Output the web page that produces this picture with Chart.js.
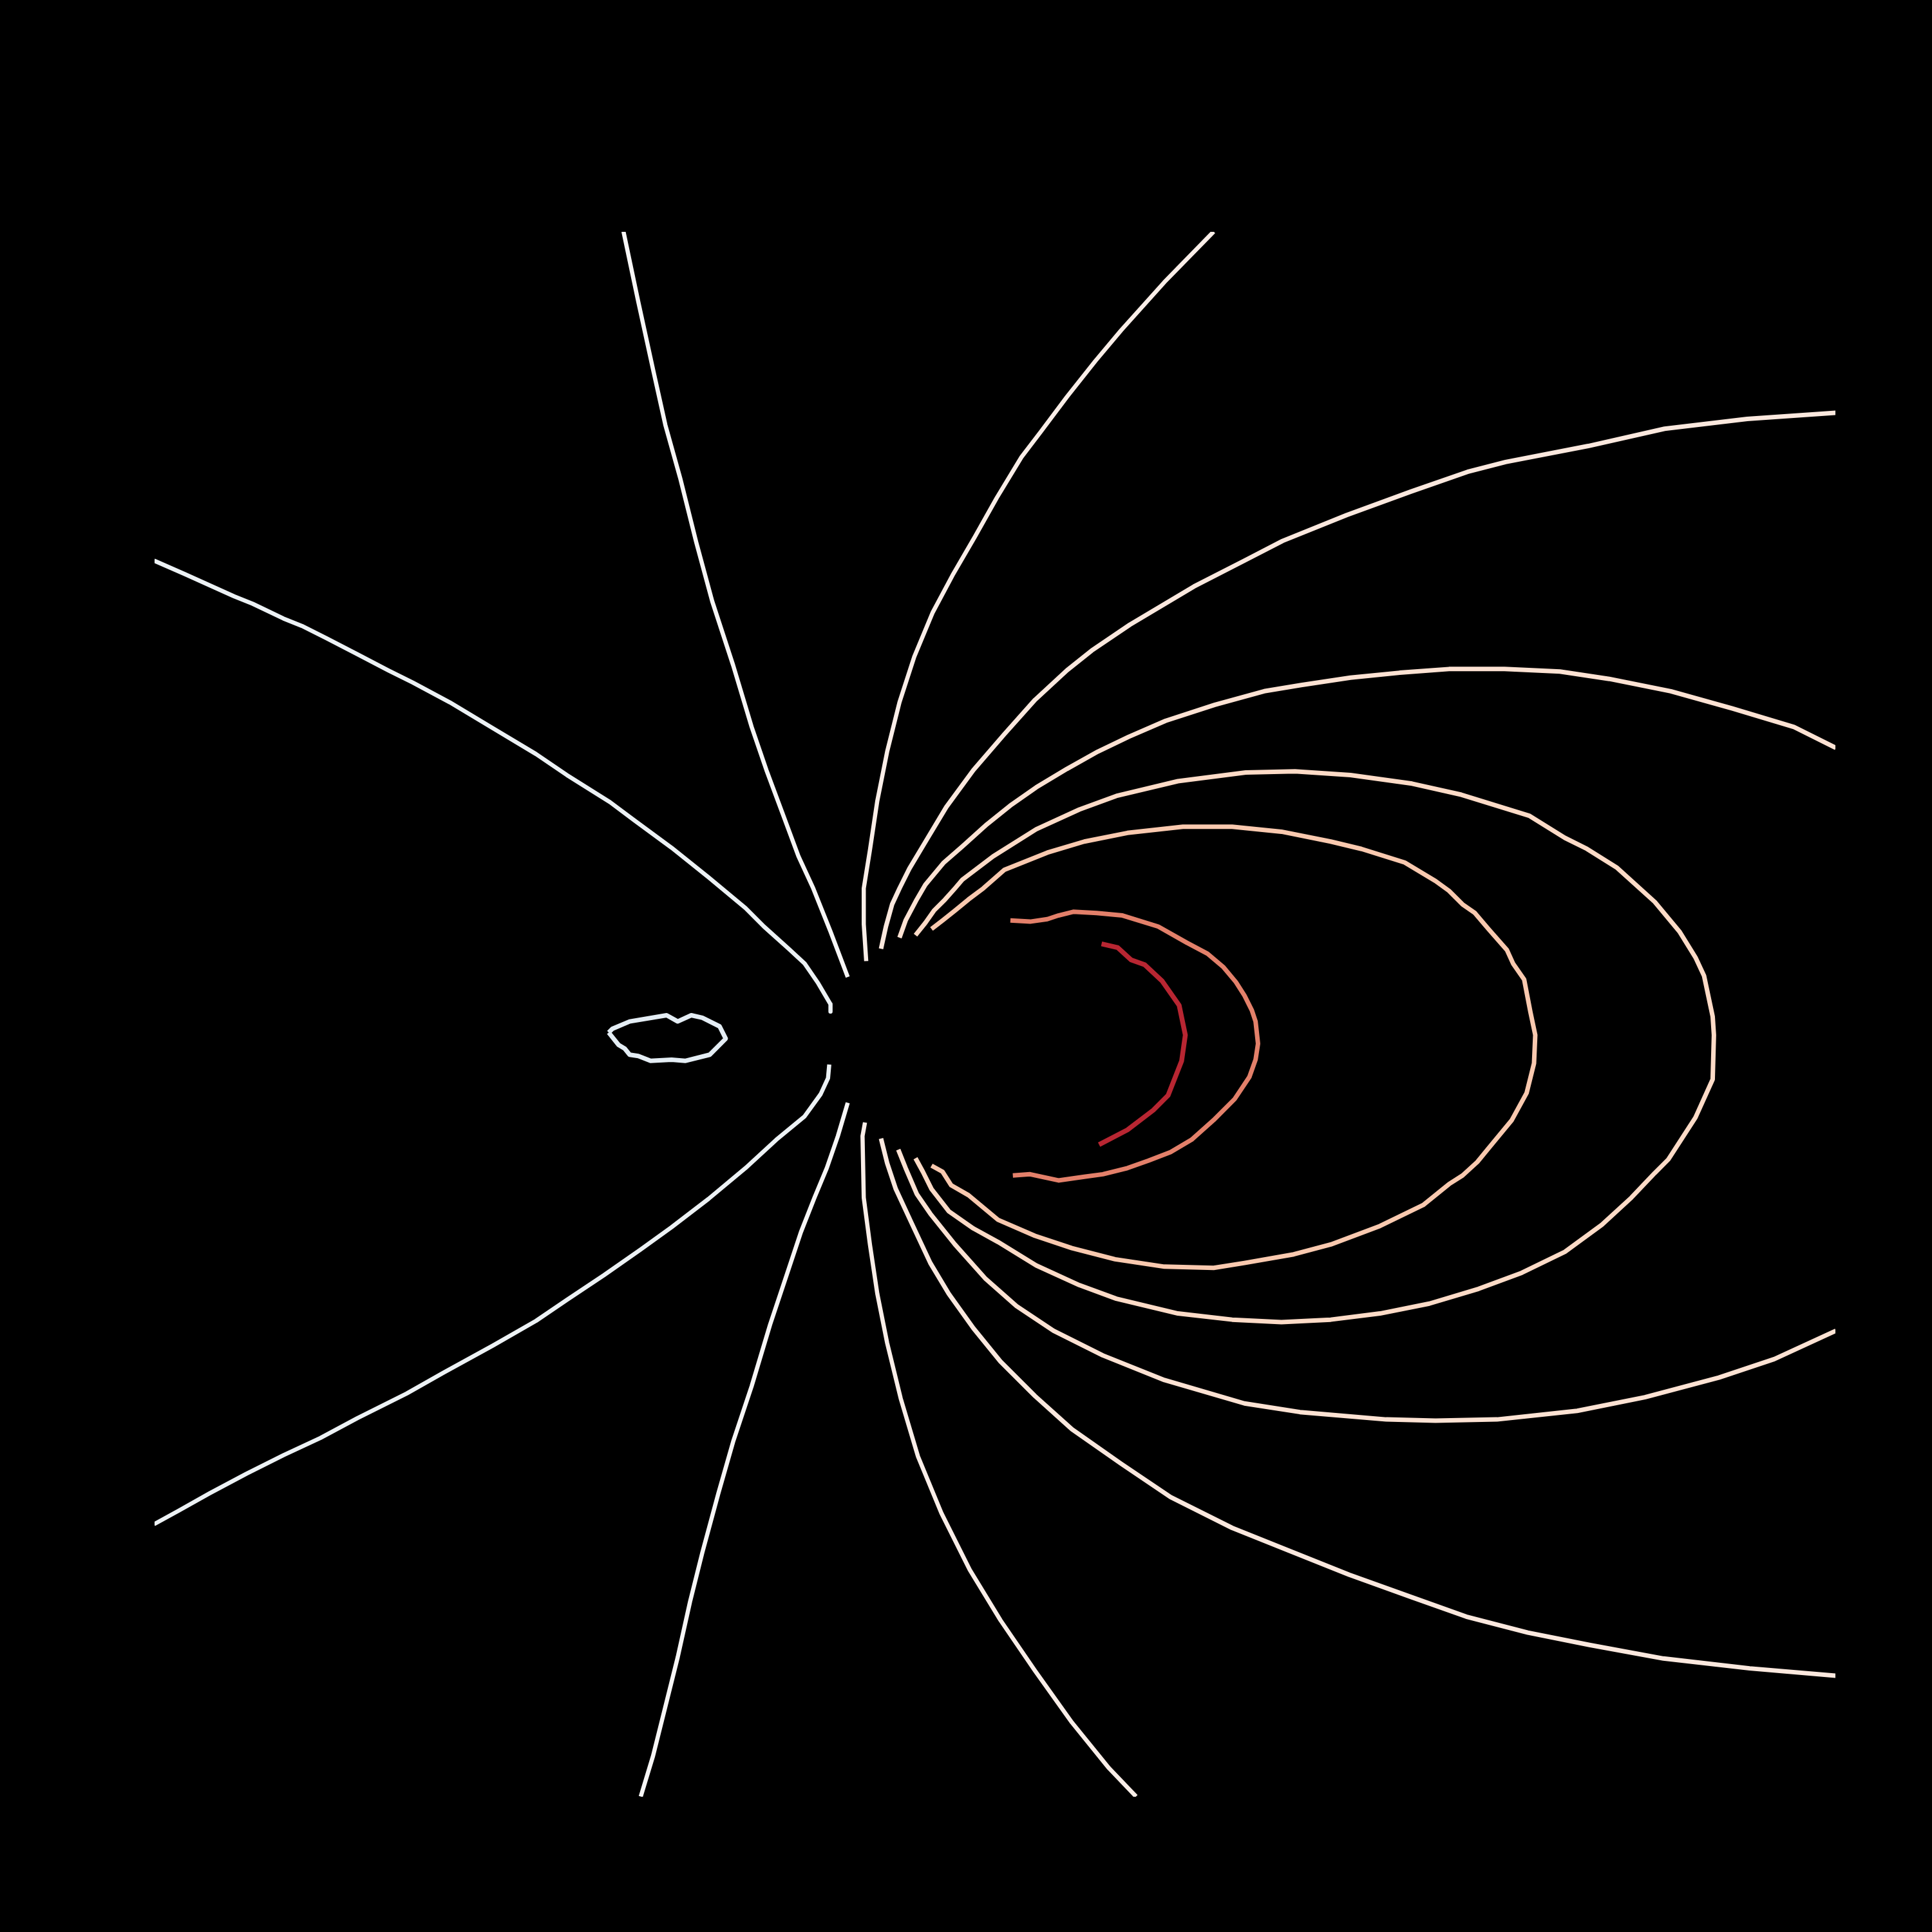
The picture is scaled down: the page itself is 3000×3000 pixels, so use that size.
<!DOCTYPE html>
<html>
<head>
<meta charset="utf-8">
<script src="https://cdn.jsdelivr.net/npm/chart.js@4.4.1/dist/chart.umd.min.js"></script>
<style>
  html, body { margin: 0; padding: 0; background: #000; }
  canvas { display: block; background: #000; }
</style>
</head>
<body>
<canvas id="contourChart" width="3000" height="3000"></canvas>
<script>
// contour paths, [x, y] in plot units (y grows downward)
const loopLeft = [[494,838],[497,835],[511,829],[541,824],[550,829],[561,824],[570,826],[584,833],[589,843],[576,856],[556,861],[545,860],[528,861],[518,857],[511,856],[507,851],[502,848],[494,838]];

const line1Upper = [[125,455],[150,466],[170,475],[190,484],[205,490],[230,502],[245,508],[265,518],[290,531],[315,544],[335,554],[365,570],[400,591],[435,612],[460,629],[495,651],[515,666],[545,688],[575,712],[605,737],[620,752],[640,770],[653,782],[664,798],[674,815],[674,821]];
const line1Lower = [[673,864],[672,875],[666,888],[653,906],[630,925],[605,948],[575,973],[545,996],[520,1014],[490,1035],[460,1055],[435,1072],[400,1092],[360,1114],[330,1131],[290,1151],[260,1167],[230,1181],[200,1196],[170,1212],[145,1226],[125,1237]];

const line2Upper = [[506,188],[518,245],[530,300],[540,345],[552,388],[565,440],[578,488],[595,540],[610,590],[622,625],[635,660],[648,695],[660,721],[674,756],[688,793]];
const line2Lower = [[688,895],[680,922],[671,948],[661,972],[650,1000],[640,1030],[625,1075],[610,1125],[595,1170],[583,1212],[570,1260],[560,1300],[550,1345],[540,1385],[530,1425],[520,1458]];

const line3Upper = [[985,188],[945,229],[910,268],[889,293],[866,322],[845,350],[829,371],[809,404],[791,436],[773,467],[757,497],[742,533],[730,570],[720,610],[712,650],[706,690],[701,721],[701,750],[703,780]];
const line3Lower = [[702,911],[700,922],[701,972],[706,1010],[712,1050],[720,1090],[731,1135],[745,1182],[764,1228],[787,1274],[812,1315],[840,1356],[870,1398],[900,1435],[922,1458]];

const line4Upper = [[1490,335],[1418,340],[1351,348],[1289,362],[1222,375],[1191,383],[1145,399],[1093,418],[1041,439],[1010,455],[969,476],[917,507],[886,528],[866,544],[840,568],[815,596],[790,625],[768,655],[750,685],[738,705],[730,721],[724,734],[719,752],[715,770]];
const line4Lower = [[715,924],[720,944],[727,965],[740,993],[755,1025],[770,1050],[790,1078],[812,1105],[840,1133],[870,1160],[910,1188],[950,1215],[1000,1240],[1045,1258],[1095,1278],[1145,1296],[1190,1312],[1240,1325],[1290,1335],[1350,1346],[1420,1354],[1490,1360]];

const line5Upper = [[1490,607],[1456,590],[1406,575],[1356,561],[1306,551],[1266,545],[1221,543],[1176,543],[1136,546],[1096,550],[1056,556],[1026,561],[986,572],[946,585],[916,598],[891,610],[866,624],[841,639],[821,653],[801,669],[781,687],[766,700],[751,718],[744,730],[735,747],[730,761]];
const line5Lower = [[729,933],[735,948],[744,969],[755,985],[775,1010],[800,1038],[825,1060],[855,1080],[895,1100],[945,1120],[1010,1139],[1055,1146],[1125,1152],[1165,1153],[1215,1152],[1280,1145],[1335,1134],[1395,1118],[1440,1103],[1490,1080]];

const line6 = [[743,759],[751,749],[758,739],[767,730],[775,721],[781,714],[806,695],[841,673],[876,657],[906,646],[956,634],[1011,627],[1051,626],[1096,629],[1146,636],[1186,645],[1241,662],[1270,680],[1288,689],[1312,704],[1343,732],[1363,756],[1376,777],[1383,792],[1390,825],[1391,840],[1390,876],[1376,907],[1354,941],[1343,952],[1324,972],[1300,994],[1270,1016],[1235,1033],[1200,1046],[1160,1058],[1120,1066],[1080,1071],[1040,1073],[1000,1071],[956,1066],[906,1054],[876,1043],[841,1027],[810,1008],[790,997],[770,983],[756,965],[749,951],[743,940]];

const line7 = [[756,754],[765,747],[775,739],[786,730],[798,721],[815,706],[850,692],[880,683],[915,676],[960,671],[1000,671],[1040,675],[1080,683],[1105,689],[1140,700],[1165,715],[1176,723],[1187,734],[1197,741],[1208,754],[1223,771],[1228,782],[1237,795],[1242,821],[1246,840],[1245,863],[1239,887],[1227,909],[1208,932],[1199,943],[1187,954],[1176,961],[1155,978],[1120,995],[1080,1010],[1050,1018],[1010,1025],[985,1029],[945,1028],[905,1022],[870,1013],[840,1003],[810,990],[786,970],[772,962],[765,951],[756,946]];

const line8 = [[820,747],[836,748],[850,746],[859,743],[871,740],[890,741],[911,743],[940,752],[963,765],[980,774],[993,785],[1003,797],[1010,808],[1016,820],[1019,829],[1021,847],[1019,860],[1014,874],[1002,892],[985,909],[967,925],[950,935],[932,942],[915,948],[895,953],[880,955],[859,958],[836,953],[822,954]];

const line9 = [[894,766],[907,769],[918,779],[929,783],[943,796],[957,816],[962,840],[959,861],[948,889],[936,901],[915,917],[892,929]];

const xRange = [125.4, 1489.6];
const yRange = [188.2, 1458.2];

function series(points, color, width) {
    return {
        data: points.map(p => ({ x: p[0], y: p[1] })),
        showLine: true,
        borderColor: color,
        borderWidth: width,
        pointRadius: 0,
        tension: 0,
        borderJoinStyle: 'round',
        borderCapStyle: 'butt',
        fill: false
    };
}

const ctx = document.getElementById('contourChart');

new Chart(ctx, {
    type: 'scatter',
    data: {
        datasets: [
            series(loopLeft, '#e4edf4', 7),
            series(line1Upper, '#edf2f5', 6.5),
            series(line1Lower, '#edf2f5', 6.5),
            series(line2Upper, '#f7f6f6', 6.5),
            series(line2Lower, '#f7f6f6', 6.5),
            series(line3Upper, '#faeee8', 6.5),
            series(line3Lower, '#faeee8', 6.5),
            series(line4Upper, '#fbe8de', 7),
            series(line4Lower, '#fbe8de', 7),
            series(line5Upper, '#fde2d3', 7),
            series(line5Lower, '#fde2d3', 7),
            series(line6, '#fddbc7', 7),
            series(line7, '#f9c9af', 7),
            series(line8, '#e3806a', 7),
            series(line9, '#b82632', 7.5)
        ]
    },
    options: {
        responsive: false,
        devicePixelRatio: 1,
        animation: false,
        layout: { padding: { left: 240, right: 150, top: 360, bottom: 210 } },
        plugins: {
            legend: { display: false },
            tooltip: { enabled: false }
        },
        scales: {
            x: { type: 'linear', display: false, min: xRange[0], max: xRange[1] },
            y: { type: 'linear', display: false, reverse: true, min: yRange[0], max: yRange[1] }
        }
    }
});
</script>
</body>
</html>
